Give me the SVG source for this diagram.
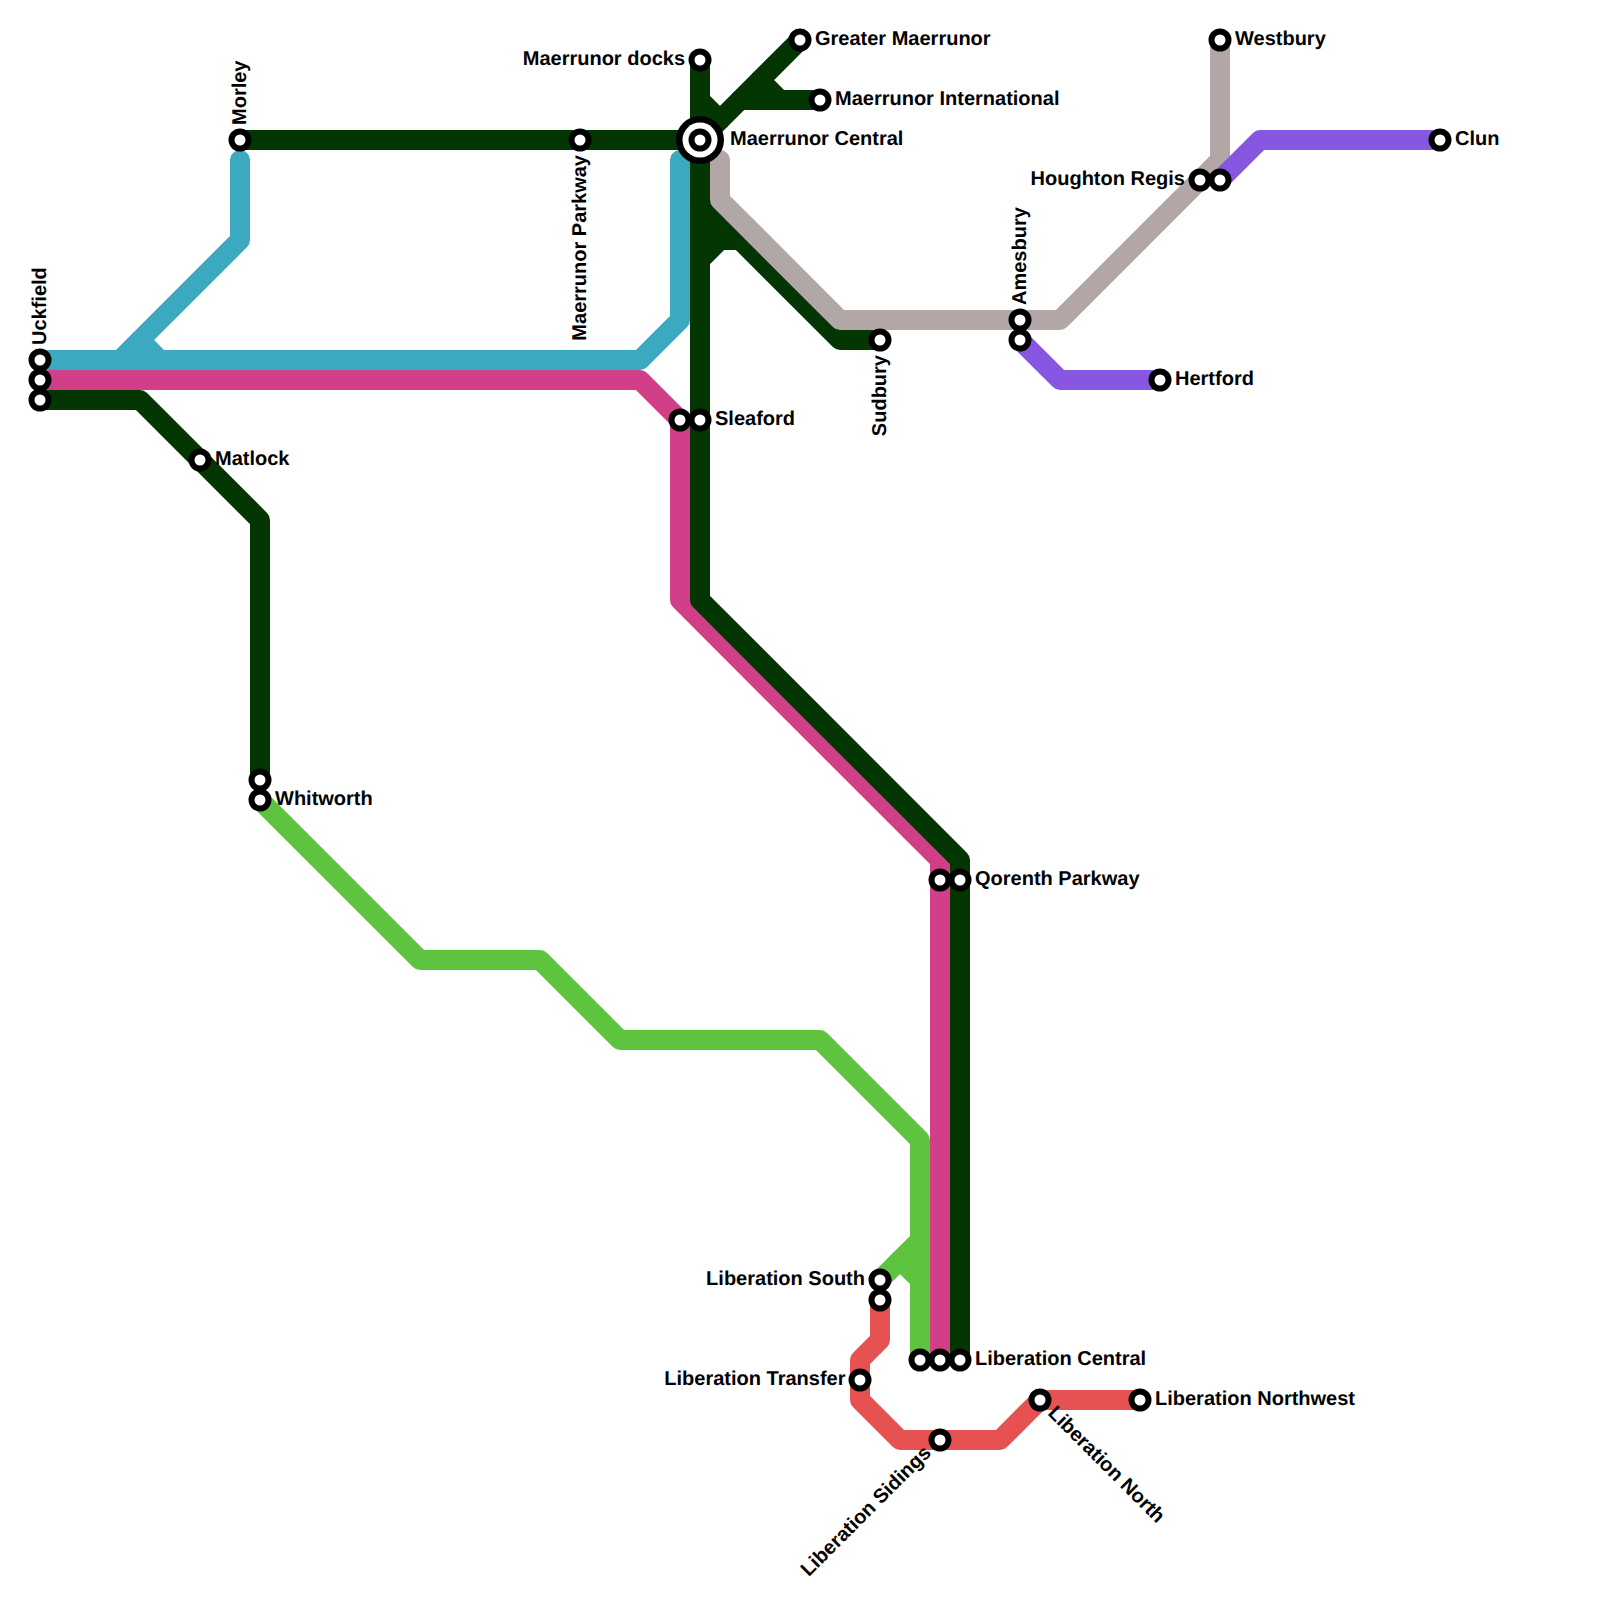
<svg xmlns="http://www.w3.org/2000/svg" width="1600" height="1600" viewBox="0 0 1600 1600">
<style>
.l{fill:none;stroke-width:20;stroke-linecap:round;stroke-linejoin:round}
.dg{stroke:#033603}.bl{stroke:#3ba9c0}.pk{stroke:#d03f88}.gn{stroke:#5ec43f}.gy{stroke:#b3a6a6}.rd{stroke:#e65252}.pu{stroke:#8757e2}
.s{fill:#fff;stroke:#000;stroke-width:6}
text{font-family:"Liberation Sans",Arial,sans-serif;font-weight:700;font-size:20px;fill:#000;text-rendering:geometricPrecision}
.e{text-anchor:end}
</style>
<rect width="1600" height="1600" fill="#fff"/>
<g id="connectors">
<path class="l bl" d="M240 160V240L120 360"/>
<path class="l bl" d="M140 340L160 360"/>
<path class="l bl" d="M40 360H640L680 320V160"/>
<path class="l pk" d="M40 380H640L680 420V600L940 860V1360"/>
<path class="l dg" d="M240 140H700"/>
<path class="l dg" d="M40 400H140L260 520V780"/>
<path class="l dg" d="M700 60V600L960 860V1360"/>
<path class="l dg" d="M700 140L800 40"/>
<path class="l dg" d="M740 100H820"/>
<path class="l dg" d="M760 80L780 100"/>
<path class="l dg" d="M700 100L720 120"/>
<path class="l dg" d="M700 200L840 340H880"/>
<path class="l dg" d="M700 260L720 240H740"/>
<path class="l dg" d="M700 230H730"/>
<path class="l gy" d="M720 160V200L840 320H1060L1220 160V40"/>
<path class="l gn" d="M260 800L420 960H540L620 1040H820L920 1140V1360"/>
<path class="l gn" d="M880 1280L920 1240"/>
<path class="l gn" d="M900 1260L920 1280"/>
<path class="l rd" d="M880 1300V1340L860 1360V1400L900 1440H1000L1040 1400H1140"/>
<path class="l pu" d="M1020 340L1060 380H1160"/>
<path class="l pu" d="M1220 180L1260 140H1440"/>
</g>
<g id="n-uckfield"><circle class="s" cx="40" cy="360" r="8.5"/><text transform="translate(45.500 345) rotate(-90)">Uckfield</text></g>
<g id="n-u2"><circle class="s" cx="40" cy="380" r="8.5"/></g>
<g id="n-u3"><circle class="s" cx="40" cy="400" r="8.5"/></g>
<g id="n-morley"><circle class="s" cx="240" cy="140" r="8.5"/><text transform="translate(245.500 125) rotate(-90)">Morley</text></g>
<g id="n-parkway"><circle class="s" cx="580" cy="140" r="8.5"/><text class="e" transform="translate(585.500 155) rotate(-90)">Maerrunor Parkway</text></g>
<g id="n-docks"><circle class="s" cx="700" cy="60" r="8.5"/><text class="e" x="685" y="65">Maerrunor docks</text></g>
<g id="n-greater"><circle class="s" cx="800" cy="40" r="8.5"/><text x="815" y="45">Greater Maerrunor</text></g>
<g id="n-intl"><circle class="s" cx="820" cy="100" r="8.5"/><text x="835" y="105">Maerrunor International</text></g>
<g id="n-central"><circle cx="700" cy="140" r="24" fill="#000"/><circle cx="700" cy="140" r="17.5" fill="#fff"/><circle class="s" cx="700" cy="140" r="8.5"/><text x="730" y="145">Maerrunor Central</text></g>
<g id="n-sleaford"><circle class="s" cx="700" cy="420" r="8.5"/><text x="715" y="425">Sleaford</text></g>
<g id="n-sl2"><circle class="s" cx="680" cy="420" r="8.5"/></g>
<g id="n-matlock"><circle class="s" cx="200" cy="460" r="8.5"/><text x="215" y="465">Matlock</text></g>
<g id="n-w1"><circle class="s" cx="260" cy="780" r="8.5"/></g>
<g id="n-whitworth"><circle class="s" cx="260" cy="800" r="8.5"/><text x="275" y="805">Whitworth</text></g>
<g id="n-sudbury"><circle class="s" cx="880" cy="340" r="8.5"/><text class="e" transform="translate(885.500 355) rotate(-90)">Sudbury</text></g>
<g id="n-amesbury"><circle class="s" cx="1020" cy="320" r="8.5"/><text transform="translate(1025.500 305) rotate(-90)">Amesbury</text></g>
<g id="n-a2"><circle class="s" cx="1020" cy="340" r="8.5"/></g>
<g id="n-hertford"><circle class="s" cx="1160" cy="380" r="8.5"/><text x="1175" y="385">Hertford</text></g>
<g id="n-westbury"><circle class="s" cx="1220" cy="40" r="8.5"/><text x="1235" y="45">Westbury</text></g>
<g id="n-houghton"><circle class="s" cx="1200" cy="180" r="8.5"/><text class="e" x="1185" y="185">Houghton Regis</text></g>
<g id="n-h2"><circle class="s" cx="1220" cy="180" r="8.5"/></g>
<g id="n-clun"><circle class="s" cx="1440" cy="140" r="8.5"/><text x="1455" y="145">Clun</text></g>
<g id="n-q2"><circle class="s" cx="940" cy="880" r="8.5"/></g>
<g id="n-qorenth"><circle class="s" cx="960" cy="880" r="8.5"/><text x="975" y="885">Qorenth Parkway</text></g>
<g id="n-south"><circle class="s" cx="880" cy="1280" r="8.5"/><text class="e" x="865" y="1285">Liberation South</text></g>
<g id="n-s2"><circle class="s" cx="880" cy="1300" r="8.5"/></g>
<g id="n-c3"><circle class="s" cx="920" cy="1360" r="8.5"/></g>
<g id="n-c2"><circle class="s" cx="940" cy="1360" r="8.5"/></g>
<g id="n-lcentral"><circle class="s" cx="960" cy="1360" r="8.5"/><text x="975" y="1365">Liberation Central</text></g>
<g id="n-transfer"><circle class="s" cx="860" cy="1380" r="8.5"/><text class="e" x="845.500" y="1385">Liberation Transfer</text></g>
<g id="n-sidings"><circle class="s" cx="940" cy="1440" r="8.5"/><text class="e" transform="translate(932 1454) rotate(-45)">Liberation Sidings</text></g>
<g id="n-north"><circle class="s" cx="1040" cy="1400" r="8.5"/><text transform="translate(1047 1414) rotate(45)">Liberation North</text></g>
<g id="n-northwest"><circle class="s" cx="1140" cy="1400" r="8.5"/><text x="1155" y="1405">Liberation Northwest</text></g>
</svg>
